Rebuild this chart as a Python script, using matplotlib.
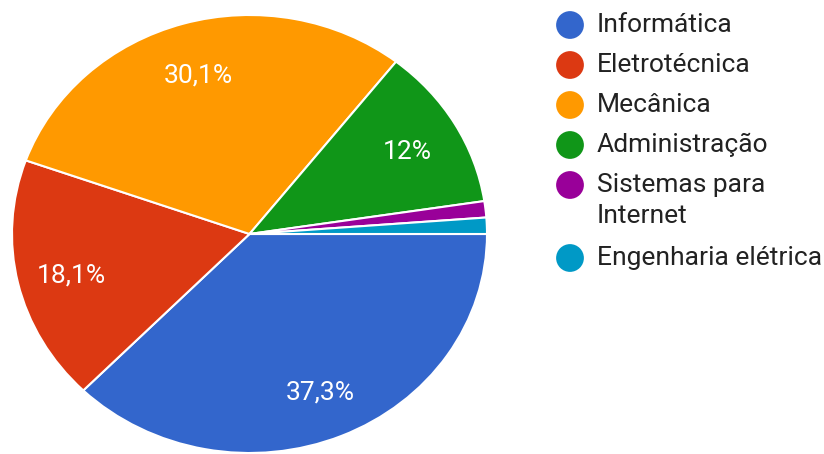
import numpy as np
import matplotlib.pyplot as plt

# Data
categories = ["Informática", "Eletrotécnica", "Mecânica", "Administração",
              "Sistemas para\nInternet", "Engenharia elétrica"]
values = [37.3, 18.1, 30.1, 12.0, 1.2, 1.2]
colors = ["#3366cc", "#dc3912", "#ff9900", "#109618", "#990099", "#0099c6"]

plt.rcParams["font.family"] = ["Roboto", "DejaVu Sans"]

W, H = 824, 454
fig = plt.figure(figsize=(W / 100, H / 100), dpi=100)

# Pie axes (the source picture is a bit stretched horizontally)
left, right, top, bottom = 12, 487, 15, 453
ax = fig.add_axes([left / W, 1 - bottom / H, (right - left) / W, (bottom - top) / H])


def fmt(v):
    s = f"{v:.1f}".rstrip("0").rstrip(".")
    return s.replace(".", ",") + "%"


wedges, texts = ax.pie(values, colors=colors, startangle=0, counterclock=False,
                       wedgeprops=dict(edgecolor="white", linewidth=1.5))
for w, v in zip(wedges, values):
    # small slices get no label
    if v < 5:
        continue
    ang = np.deg2rad((w.theta1 + w.theta2) / 2)
    ax.text(0.77 * np.cos(ang), 0.77 * np.sin(ang) - 0.015, fmt(v), color="white",
            fontsize=19, ha="center", va="center")
ax.set_aspect("auto")
ax.set_xlim(-1, 1)
ax.set_ylim(-1, 1)
ax.axis("off")

# Legend drawn in pixel coordinates
lax = fig.add_axes([0, 0, 1, 1])
lax.set_xlim(0, W)
lax.set_ylim(H, 0)
lax.axis("off")
y = 25
for cat, col in zip(categories, colors):
    lax.scatter([570], [y], s=400, color=col, edgecolors="none")
    lines = cat.split("\n")
    for i, line in enumerate(lines):
        lax.text(597, y + i * 31, line, fontsize=19, color="#222222", va="center")
    y += 40 + (len(lines) - 1) * 33

fig.savefig("out.png", dpi=100)
